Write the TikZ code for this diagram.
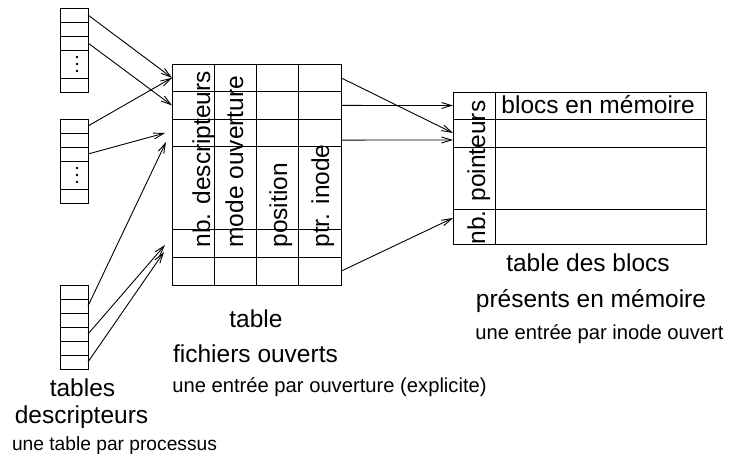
\documentclass[tikz,border=0pt]{standalone}
\usepackage{fontspec}
\setmainfont{Liberation Sans}
\usepackage{tikz}
\usetikzlibrary{arrows.meta}
\newcommand{\bigsize}{\fontsize{24.5}{28}\selectfont}
\newcommand{\smallsize}{\fontsize{20.2}{24}\selectfont}
\newcommand{\tinysize}{\fontsize{19.2}{23}\selectfont}
\tikzstyle{cell}=[draw, inner sep=0, outer sep=0]
\tikzstyle{dcell}=[cell, minimum width=28, minimum height=14, anchor=north]
\tikzstyle{fcell}=[cell, minimum width=42.25, anchor=north west]
\tikzstyle{bcell}=[cell, anchor=north west]
\tikzstyle{ptr}=[-{Straight Barb[length=10pt, width=6pt]}]
\tikzstyle{field}=[rotate=90, anchor=base west, inner sep=0, font=\bigsize]
\tikzstyle{label}=[anchor=base, inner sep=0, font=\bigsize]
\tikzstyle{note}=[anchor=base, inner sep=0, font=\smallsize]

\begin{document}
\begin{tikzpicture}[x=1pt, y=-1pt, line width=0.9pt]
        \useasboundingbox (0,0) rectangle (740,455);
        % per-process descriptor tables
        \foreach \t/\top in {a/8, b/119} {
            \foreach \r/\dy/\h in {1/0/14, 2/14/14, 3/28/14, 4/42/28, 5/70/14}
                \node[dcell, minimum height=\h] (p\t\r) at (74,{\top+\dy}) {};
            \foreach \y in {-7,0,7}
                \fill ([shift={(3pt,\y pt)}]p\t4.center) circle (1.4pt);
        }
        \foreach \r in {1,...,6}
            \node[dcell] (pc\r) at (74,{285+14*(\r-1)}) {};
        % open files table
        \foreach \r/\top/\h in {1/64/27.625, 2/91.625/27.625, 3/119.25/27.625,
                                4/146.875/82.875, 5/229.75/27.625, 6/257.375/27.625}
            \foreach \c in {1,...,4}
                \node[fcell, minimum height=\h] (f\c-\r) at ({172+42.25*(\c-1)},\top) {};
        \node[field] (fnb) at (210,248) {nb. descripteurs};
        \node[field] (fmode) at (243,248) {mode ouverture};
        \node[field] (fpos) at (287,248) {position};
        \node[field] (fptr) at (329,248) {ptr. inode};
        % in-core block table
        \foreach \r/\top/\h in {1/92/27, 2/119/28, 3/147/62, 4/209/35} {
            \node[bcell, minimum width=42, minimum height=\h] (b1-\r) at (453,\top) {};
            \node[bcell, minimum width=211, minimum height=\h] (b2-\r) at (495,\top) {};
        }
        \node[field] (bnb) at (485,245) {nb. pointeurs};
        \node[anchor=base west, inner sep=0, font=\bigsize] (bmem) at (501,113) {blocs en mémoire};
        % pointers into the open files table
        \coordinate (endA) at (165,133);
        \coordinate (endB) at (166,142);
        \coordinate (endC) at (165,245);
        \coordinate (endD) at (164,252);
        \draw[ptr] (pa1.east) -- (f1-1.west);
        \draw[ptr] (pa3.east) -- (f1-2.west);
        \draw[ptr] (pb1.east) -- (f1-1.west);
        \draw[ptr] (pb3.east) -- (endA);
        \draw[ptr] (pc2.east) -- (endB);
        \draw[ptr] (pc4.east) -- (endC);
        \draw[ptr] (pc6.east) -- (endD);
        % pointers into the block table
        \draw[ptr] (f4-1.east) -- (b1-2.west);
        \draw[ptr] (f4-2.east) -- (b1-1.west);
        \draw[ptr] ([yshift=-7pt]f4-3.east) -- ([yshift=-7pt]b1-2.west);
        \draw[ptr] (f4-6.east) -- ([yshift=8.5pt]b1-4.west);
        % captions
        \node[label] (ltab) at (256,327) {table};
        \node[label] (lfich) at (255.5,362) {fichiers ouverts};
        \node[note] (nfich) at (329.5,392) {une entrée par ouverture (explicite)};
        \node[label] (lblocs) at (588,271) {table des blocs};
        \node[label] (lpres) at (591,307) {présents en mémoire};
        \node[note] (nblocs) at (599.5,339) {une entrée par inode ouvert};
        \node[label] (ltables) at (82.5,396) {tables};
        \node[label] (ldesc) at (81.5,423) {descripteurs};
        \node[note, font=\tinysize] (nproc) at (114.5,450) {une table par processus};
    \end{tikzpicture}
\end{document}
